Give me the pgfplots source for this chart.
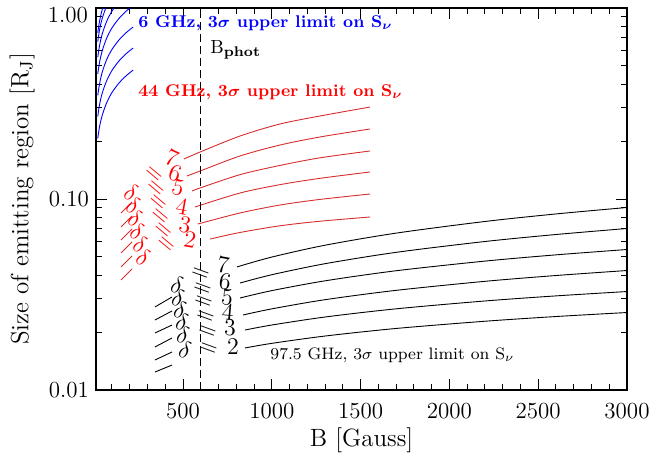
\documentclass[border=0pt]{standalone}
\usepackage{pgfplots}
\pgfplotsset{compat=1.18}
\definecolor{curvered}{RGB}{215,45,45}
\tikzset{
  lab/.style={font=\fontsize{12}{12}\selectfont, inner sep=0pt},
  eq/.style={font=\fontsize{13}{13}\selectfont, inner sep=0pt},
}
\begin{document}
\begin{tikzpicture}
\begin{axis}[
  scale only axis, width=265.5pt, height=191pt,
  xmin=10, xmax=3000, ymode=log, ymin=0.01, ymax=1,
  xtick={500,1000,1500,2000,2500,3000},
  xticklabels={500,1000,1500,2000,2500,3000},
  scaled x ticks=false,
  minor xtick={100,200,...,3000},
  ytick={0.01,0.1,1}, yticklabels={0.01,0.10,{}},
  minor ytick={0.02,0.03,0.04,0.05,0.06,0.07,0.08,0.09,0.2,0.3,0.4,0.5,0.6,0.7,0.8,0.9},
  tick align=inside, major tick length=5.3pt, minor tick length=2.8pt,
  tick style={black, line width=0.5pt},
  axis line style={line width=0.6pt},
  tick label style={font=\fontsize{11.5}{13}\selectfont},
  xticklabel style={yshift=-3pt},
  label style={font=\fontsize{12.5}{14}\selectfont},
  xlabel={B [Gauss]},
  ylabel={Size of emitting region [R$_\mathrm{J}$]},
  xlabel style={at={(axis description cs:0.5,-0.131)}, anchor=center},
  ylabel style={at={(axis description cs:-0.139,0.5)}, anchor=center},
  every axis plot/.append style={no markers, line width=0.45pt},
]
\coordinate (SW) at (rel axis cs:0,0);
\coordinate (NE) at (rel axis cs:1,1);
\coordinate (NW) at (rel axis cs:0,1);

% 6 GHz limits
\addplot[blue, smooth] coordinates {(20,0.208) (30,0.239) (45,0.274) (70,0.319) (100,0.361) (140,0.405) (180,0.442) (219,0.473)};
\addplot[blue, smooth] coordinates {(20,0.271) (30,0.312) (45,0.358) (70,0.416) (100,0.471) (140,0.529) (180,0.577) (219,0.617)};
\addplot[blue, smooth] coordinates {(20,0.349) (30,0.401) (45,0.461) (70,0.537) (100,0.607) (140,0.681) (180,0.743) (219,0.795)};
\addplot[blue, smooth] coordinates {(20,0.452) (30,0.520) (45,0.597) (70,0.695) (100,0.787) (140,0.883) (180,0.963) (219,1.03)};
\addplot[blue, smooth] coordinates {(20,0.553) (30,0.636) (45,0.731) (70,0.851) (100,0.963) (140,1.08) (180,1.18) (219,1.26)};
\addplot[blue, smooth] coordinates {(20,0.667) (30,0.768) (45,0.882) (70,1.026) (100,1.16)};
\addplot[blue, smooth] coordinates {(20,0.742) (30,0.853) (45,0.980) (70,1.14)};

% 44 GHz limits
\addplot[curvered] coordinates {(151,0.0845) (213,0.0965)};
\addplot[curvered] coordinates {(151,0.0714) (213,0.0815)};
\addplot[curvered] coordinates {(151,0.0610) (213,0.0697)};
\addplot[curvered] coordinates {(151,0.0522) (213,0.0596)};
\addplot[curvered] coordinates {(151,0.0441) (213,0.0503)};
\addplot[curvered] coordinates {(151,0.0377) (213,0.0430)};
\addplot[curvered, smooth] coordinates {(505,0.1620) (596,0.1762) (821,0.2137) (1046,0.2470) (1271,0.2720) (1553,0.3031)};
\addplot[curvered, smooth] coordinates {(522,0.1319) (596,0.1401) (821,0.1680) (1046,0.1917) (1271,0.2112) (1553,0.2326)};
\addplot[curvered, smooth] coordinates {(551,0.1101) (596,0.1142) (821,0.1341) (1046,0.1499) (1271,0.1643) (1553,0.1784)};
\addplot[curvered, smooth] coordinates {(567,0.0908) (821,0.1075) (1046,0.1189) (1271,0.1283) (1553,0.1385)};
\addplot[curvered, smooth] coordinates {(584,0.0740) (821,0.0845) (1046,0.0930) (1271,0.0995) (1553,0.1062)};
\addplot[curvered, smooth] coordinates {(652,0.0617) (821,0.0668) (1046,0.0724) (1271,0.0765) (1553,0.0805)};

% 97.5 GHz limits
\addplot[black] coordinates {(342,0.02721) (438,0.03069)};
\addplot[black] coordinates {(342,0.02325) (438,0.02592)};
\addplot[black] coordinates {(342,0.01988) (438,0.02189)};
\addplot[black] coordinates {(342,0.01680) (438,0.01872)};
\addplot[black] coordinates {(342,0.01436) (438,0.01581)};
\addplot[black] coordinates {(342,0.01242) (438,0.01351)};
\addplot[black, smooth] coordinates {(804,0.0441) (1000,0.04966) (1300,0.05729) (1700,0.06628) (2200,0.07626) (2600,0.08352) (3000,0.09028)};
\addplot[black, smooth] coordinates {(821,0.03633) (1000,0.04014) (1300,0.04585) (1700,0.05257) (2200,0.05991) (2600,0.06518) (3000,0.07009)};
\addplot[black, smooth] coordinates {(821,0.03032) (1000,0.03314) (1300,0.03730) (1700,0.04211) (2200,0.04730) (2600,0.05100) (3000,0.05440)};
\addplot[black, smooth] coordinates {(838,0.02470) (1000,0.02660) (1300,0.02971) (1700,0.03325) (2200,0.03707) (2600,0.03976) (3000,0.04223)};
\addplot[black, smooth] coordinates {(849,0.02061) (1000,0.02189) (1300,0.02411) (1700,0.02661) (2200,0.02925) (2600,0.03110) (3000,0.03278)};
\addplot[black, smooth] coordinates {(849,0.01660) (1000,0.01755) (1300,0.01917) (1700,0.02100) (2200,0.02291) (2600,0.02425) (3000,0.02545)};

% B_phot
\addplot[black, line width=0.5pt, dash pattern=on 4pt off 2pt] coordinates {(600,0.01) (600,1)};

% contour labels, 44 GHz
\begin{scope}[curvered, text=red]
\node[lab, rotate=-25] at (axis cs:207,0.1088) {$\delta$};
\node[lab, rotate=-25] at (axis cs:218,0.0930) {$\delta$};
\node[lab, rotate=-25] at (axis cs:230,0.0795) {$\delta$};
\node[lab, rotate=-25] at (axis cs:241,0.0680) {$\delta$};
\node[lab, rotate=-25] at (axis cs:258,0.0581) {$\delta$};
\node[lab, rotate=-25] at (axis cs:275,0.0497) {$\delta$};
\node[eq, rotate=-40] at (axis cs:331,0.1335) {$=$};
\node[eq, rotate=-40] at (axis cs:342,0.1128) {$=$};
\node[eq, rotate=-40] at (axis cs:354,0.0953) {$=$};
\node[eq, rotate=-40] at (axis cs:365,0.0805) {$=$};
\node[eq, rotate=-40] at (axis cs:382,0.0680) {$=$};
\node[eq, rotate=-40] at (axis cs:399,0.0574) {$=$};
\node[lab, rotate=-25] at (axis cs:438,0.1640) {7};
\node[lab, rotate=-20] at (axis cs:455,0.1368) {6};
\node[lab, rotate=-15] at (axis cs:472,0.1142) {5};
\node[lab, rotate=-10] at (axis cs:494,0.0908) {4};
\node[lab, rotate=-10] at (axis cs:511,0.0731) {3};
\node[lab, rotate=-10] at (axis cs:539,0.0610) {2};
\end{scope}

% contour labels, 97.5 GHz
\node[lab, rotate=-15] at (axis cs:466,0.03546) {$\delta$};
\node[lab, rotate=-15] at (axis cs:472,0.03032) {$\delta$};
\node[lab, rotate=-15] at (axis cs:483,0.02623) {$\delta$};
\node[lab, rotate=-15] at (axis cs:494,0.02270) {$\delta$};
\node[lab, rotate=-15] at (axis cs:500,0.01941) {$\delta$};
\node[lab, rotate=-15] at (axis cs:511,0.01620) {$\delta$};
\node[eq, rotate=-20] at (axis cs:596,0.0400) {$=$};
\node[eq, rotate=-20] at (axis cs:607,0.03340) {$=$};
\node[eq, rotate=-20] at (axis cs:612,0.02854) {$=$};
\node[eq, rotate=-20] at (axis cs:624,0.02382) {$=$};
\node[eq, rotate=-20] at (axis cs:635,0.01988) {$=$};
\node[eq, rotate=-20] at (axis cs:641,0.01620) {$=$};
\node[lab, rotate=-10] at (axis cs:725,0.0451) {7};
\node[lab, rotate=-8] at (axis cs:736,0.03675) {6};
\node[lab, rotate=-5] at (axis cs:748,0.03069) {5};
\node[lab, rotate=-5] at (axis cs:753,0.02561) {4};
\node[lab] at (axis cs:765,0.02112) {3};
\node[lab] at (axis cs:781,0.01680) {2};

% annotations
\node[anchor=base west, inner sep=0pt, text=blue, font=\fontsize{8.5}{10}\selectfont\bfseries\boldmath]
  at (axis cs:246.5,0.795) {6 GHz, 3$\sigma$ upper limit on S$_\nu$};
\node[anchor=base west, inner sep=0pt, text=red, font=\fontsize{8.5}{10}\selectfont\bfseries\boldmath]
  at (axis cs:246.5,0.343) {44 GHz, 3$\sigma$ upper limit on S$_\nu$};
\node[anchor=base west, inner sep=0pt, font=\fontsize{8.3}{10}\selectfont]
  at (axis cs:990,0.01436) {97.5 GHz, 3$\sigma$ upper limit on S$_\nu$};
\node[anchor=base west, inner sep=0pt, font=\fontsize{9.5}{11}\selectfont]
  at (axis cs:652,0.581) {B$_{\mathbf{phot}}$};
\end{axis}
\node[anchor=east, inner sep=0pt, font=\fontsize{11.5}{13}\selectfont]
  at ([shift={(-3.8pt,-3.75pt)}]NW) {1.00};
\pgfresetboundingbox
\useasboundingbox ([shift={(-48pt,-32.5pt)}]SW) rectangle ([shift={(11pt,4pt)}]NE);
\end{tikzpicture}
\end{document}
